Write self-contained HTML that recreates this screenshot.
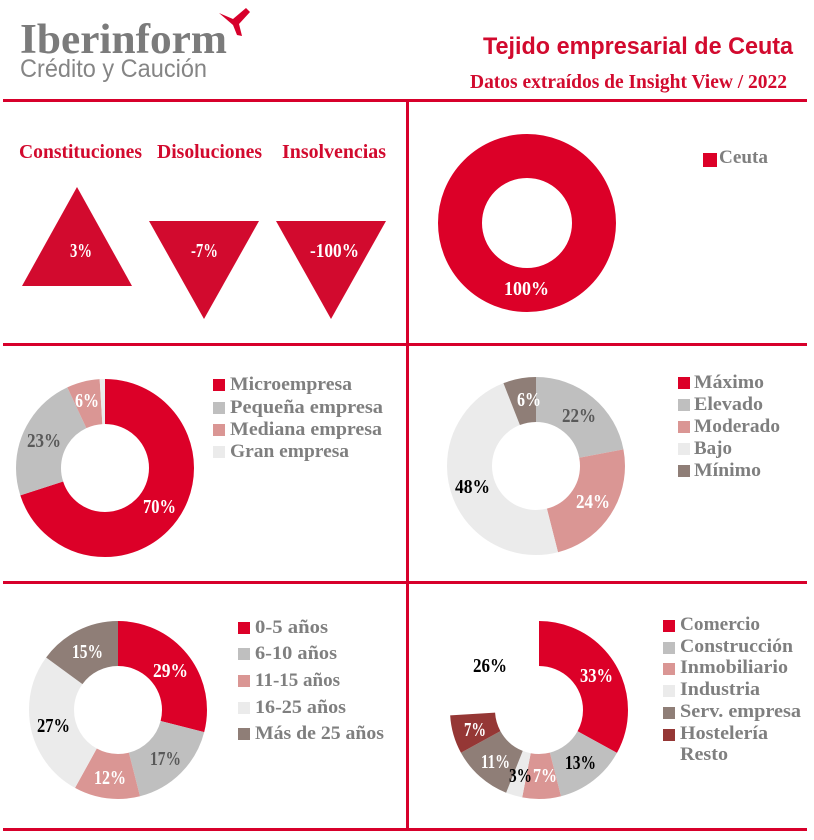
<!DOCTYPE html>
<html><head><meta charset="utf-8"><style>
html,body{margin:0;padding:0;background:#fff;}
svg{display:block;}
.lg{font-family:"Liberation Serif",serif;font-weight:bold;font-size:19px;fill:#7f7f7f;}
.pc{font-family:"Liberation Serif",serif;font-weight:bold;font-size:20px;}
.hd{font-family:"Liberation Serif",serif;font-weight:bold;font-size:20px;fill:#d20a2e;}
</style></head><body>
<svg width="814" height="840" viewBox="0 0 814 840" xmlns="http://www.w3.org/2000/svg">
<rect width="814" height="840" fill="#fff"/>
<!-- Logo -->
<text x="20" y="53" font-family="Liberation Serif, serif" font-weight="bold" font-size="42" fill="#7b7b7b" textLength="207" lengthAdjust="spacingAndGlyphs">Iberinform</text>
<text x="20" y="77" font-family="Liberation Sans, sans-serif" font-size="25" fill="#858585" textLength="187" lengthAdjust="spacingAndGlyphs">Crédito y Caución</text>
<path d="M219,13 L233,19 L246,8 L250,12 L239,24 L242,36 L237,35 L233,25 Z" fill="#d7002b"/>
<!-- Titles -->
<text x="483" y="54" font-family="Liberation Sans, sans-serif" font-weight="bold" font-size="24" fill="#d20a2e" textLength="310" lengthAdjust="spacingAndGlyphs">Tejido empresarial de Ceuta</text>
<text x="470" y="88" font-family="Liberation Serif, serif" font-weight="bold" font-size="20" fill="#d20a2e" textLength="317" lengthAdjust="spacingAndGlyphs">Datos extraídos de Insight View / 2022</text>
<!-- Grid lines -->
<rect x="3" y="99" width="804" height="3" fill="#d7002b"/>
<rect x="3" y="343" width="804" height="3" fill="#d7002b"/>
<rect x="3" y="581" width="804" height="3" fill="#d7002b"/>
<rect x="3" y="828" width="804" height="3" fill="#d7002b"/>
<rect x="406" y="99" width="3" height="732" fill="#d7002b"/>

<!-- Panel 1: triangles -->
<text class="hd" x="19" y="158" textLength="123" lengthAdjust="spacingAndGlyphs">Constituciones</text>
<text class="hd" x="157" y="158" textLength="105" lengthAdjust="spacingAndGlyphs">Disoluciones</text>
<text class="hd" x="282" y="158" textLength="104" lengthAdjust="spacingAndGlyphs">Insolvencias</text>
<polygon points="77,187 132,286 22,286" fill="#d20a2e"/>
<polygon points="149,221 259,221 204,319" fill="#d20a2e"/>
<polygon points="276,221 386,221 331,319" fill="#d20a2e"/>
<text class="pc" x="70" y="257" fill="#fff" textLength="22" lengthAdjust="spacingAndGlyphs">3%</text>
<text class="pc" x="191" y="257" fill="#fff" textLength="27" lengthAdjust="spacingAndGlyphs">-7%</text>
<text class="pc" x="310" y="257" fill="#fff" textLength="49" lengthAdjust="spacingAndGlyphs">-100%</text>

<!-- Panel 2: Ceuta donut -->
<circle cx="527" cy="223" r="67" fill="none" stroke="#dc0028" stroke-width="44"/>
<text class="pc" x="504" y="295" fill="#fff" textLength="45" lengthAdjust="spacingAndGlyphs">100%</text>
<rect x="703" y="153" width="14" height="14" fill="#dc0028"/>
<text class="lg" x="719" y="163" textLength="49" lengthAdjust="spacingAndGlyphs">Ceuta</text>

<!-- Panel 3: company size -->
<g transform="rotate(-90 105 468)" fill="none" stroke-width="45">
<circle cx="105" cy="468" r="66.5" stroke="#dc0028" stroke-dasharray="292.48 417.83" stroke-dashoffset="0"/>
<circle cx="105" cy="468" r="66.5" stroke="#bfbfbf" stroke-dasharray="96.10 417.83" stroke-dashoffset="-292.48"/>
<circle cx="105" cy="468" r="66.5" stroke="#da9694" stroke-dasharray="25.07 417.83" stroke-dashoffset="-388.58"/>
<circle cx="105" cy="468" r="66.5" stroke="#ebebeb" stroke-dasharray="4.18 417.83" stroke-dashoffset="-413.65"/>
</g>
<text class="pc" x="143" y="513" fill="#fff" textLength="33" lengthAdjust="spacingAndGlyphs">70%</text>
<text class="pc" x="27" y="447" fill="#595959" textLength="34" lengthAdjust="spacingAndGlyphs">23%</text>
<text class="pc" x="75" y="407" fill="#fff" textLength="24" lengthAdjust="spacingAndGlyphs">6%</text>
<rect x="213" y="379" width="12" height="12" fill="#dc0028"/>
<rect x="213" y="402" width="12" height="12" fill="#bfbfbf"/>
<rect x="213" y="424" width="12" height="12" fill="#da9694"/>
<rect x="213" y="446" width="12" height="12" fill="#ebebeb"/>
<text class="lg" x="230" y="390" textLength="122" lengthAdjust="spacingAndGlyphs">Microempresa</text>
<text class="lg" x="230" y="413" textLength="153" lengthAdjust="spacingAndGlyphs">Pequeña empresa</text>
<text class="lg" x="230" y="435" textLength="152" lengthAdjust="spacingAndGlyphs">Mediana empresa</text>
<text class="lg" x="230" y="457" textLength="119" lengthAdjust="spacingAndGlyphs">Gran empresa</text>

<!-- Panel 4: risk -->
<g transform="rotate(-90 536 466)" fill="none" stroke-width="45">
<circle cx="536" cy="466" r="66.5" stroke="#bfbfbf" stroke-dasharray="91.92 417.83" stroke-dashoffset="0"/>
<circle cx="536" cy="466" r="66.5" stroke="#da9694" stroke-dasharray="100.28 417.83" stroke-dashoffset="-91.92"/>
<circle cx="536" cy="466" r="66.5" stroke="#ebebeb" stroke-dasharray="200.56 417.83" stroke-dashoffset="-192.20"/>
<circle cx="536" cy="466" r="66.5" stroke="#8f7e77" stroke-dasharray="25.07 417.83" stroke-dashoffset="-392.76"/>
</g>
<text class="pc" x="562" y="422" fill="#595959" textLength="34" lengthAdjust="spacingAndGlyphs">22%</text>
<text class="pc" x="576" y="508" fill="#fff" textLength="34" lengthAdjust="spacingAndGlyphs">24%</text>
<text class="pc" x="455" y="493" fill="#000" textLength="35" lengthAdjust="spacingAndGlyphs">48%</text>
<text class="pc" x="517" y="406" fill="#fff" textLength="24" lengthAdjust="spacingAndGlyphs">6%</text>
<rect x="678" y="377" width="12" height="12" fill="#dc0028"/>
<rect x="678" y="399" width="12" height="12" fill="#bfbfbf"/>
<rect x="678" y="421" width="12" height="12" fill="#da9694"/>
<rect x="678" y="443" width="12" height="12" fill="#ebebeb"/>
<rect x="678" y="465" width="12" height="12" fill="#8f7e77"/>
<text class="lg" x="694" y="388" textLength="70" lengthAdjust="spacingAndGlyphs">Máximo</text>
<text class="lg" x="694" y="410" textLength="69" lengthAdjust="spacingAndGlyphs">Elevado</text>
<text class="lg" x="694" y="432" textLength="86" lengthAdjust="spacingAndGlyphs">Moderado</text>
<text class="lg" x="694" y="454" textLength="38" lengthAdjust="spacingAndGlyphs">Bajo</text>
<text class="lg" x="694" y="476" textLength="67" lengthAdjust="spacingAndGlyphs">Mínimo</text>

<!-- Panel 5: age -->
<g transform="rotate(-90 118 710)" fill="none" stroke-width="45">
<circle cx="118" cy="710" r="66.5" stroke="#dc0028" stroke-dasharray="121.17 417.83" stroke-dashoffset="0"/>
<circle cx="118" cy="710" r="66.5" stroke="#bfbfbf" stroke-dasharray="71.03 417.83" stroke-dashoffset="-121.17"/>
<circle cx="118" cy="710" r="66.5" stroke="#da9694" stroke-dasharray="50.14 417.83" stroke-dashoffset="-192.20"/>
<circle cx="118" cy="710" r="66.5" stroke="#ebebeb" stroke-dasharray="112.81 417.83" stroke-dashoffset="-242.34"/>
<circle cx="118" cy="710" r="66.5" stroke="#8f7e77" stroke-dasharray="62.67 417.83" stroke-dashoffset="-355.16"/>
</g>
<text class="pc" x="153" y="677" fill="#fff" textLength="35" lengthAdjust="spacingAndGlyphs">29%</text>
<text class="pc" x="150" y="765" fill="#595959" textLength="31" lengthAdjust="spacingAndGlyphs">17%</text>
<text class="pc" x="94" y="784" fill="#fff" textLength="32" lengthAdjust="spacingAndGlyphs">12%</text>
<text class="pc" x="37" y="732" fill="#000" textLength="33" lengthAdjust="spacingAndGlyphs">27%</text>
<text class="pc" x="72" y="658" fill="#fff" textLength="31" lengthAdjust="spacingAndGlyphs">15%</text>
<rect x="238" y="622" width="12" height="12" fill="#dc0028"/>
<rect x="238" y="648" width="12" height="12" fill="#bfbfbf"/>
<rect x="238" y="675" width="12" height="12" fill="#da9694"/>
<rect x="238" y="702" width="12" height="12" fill="#ebebeb"/>
<rect x="238" y="728" width="12" height="12" fill="#8f7e77"/>
<text class="lg" x="255" y="633" textLength="73" lengthAdjust="spacingAndGlyphs">0-5 años</text>
<text class="lg" x="255" y="659" textLength="82" lengthAdjust="spacingAndGlyphs">6-10 años</text>
<text class="lg" x="255" y="686" textLength="85" lengthAdjust="spacingAndGlyphs">11-15 años</text>
<text class="lg" x="255" y="713" textLength="91" lengthAdjust="spacingAndGlyphs">16-25 años</text>
<text class="lg" x="255" y="739" textLength="129" lengthAdjust="spacingAndGlyphs">Más de 25 años</text>

<!-- Panel 6: sector -->
<g transform="rotate(-90 539 710)" fill="none" stroke-width="45">
<circle cx="539" cy="710" r="66.5" stroke="#dc0028" stroke-dasharray="137.88 417.83" stroke-dashoffset="0"/>
<circle cx="539" cy="710" r="66.5" stroke="#bfbfbf" stroke-dasharray="54.32 417.83" stroke-dashoffset="-137.88"/>
<circle cx="539" cy="710" r="66.5" stroke="#da9694" stroke-dasharray="29.25 417.83" stroke-dashoffset="-192.20"/>
<circle cx="539" cy="710" r="66.5" stroke="#ebebeb" stroke-dasharray="12.54 417.83" stroke-dashoffset="-221.45"/>
<circle cx="539" cy="710" r="66.5" stroke="#8f7e77" stroke-dasharray="45.96 417.83" stroke-dashoffset="-233.99"/>
<circle cx="539" cy="710" r="66.5" stroke="#953735" stroke-dasharray="29.25 417.83" stroke-dashoffset="-279.95"/>
</g>
<text class="pc" x="580" y="682" fill="#fff" textLength="33" lengthAdjust="spacingAndGlyphs">33%</text>
<text class="pc" x="565" y="769" fill="#000" textLength="31" lengthAdjust="spacingAndGlyphs">13%</text>
<text class="pc" x="533" y="782" fill="#fff" textLength="24" lengthAdjust="spacingAndGlyphs">7%</text>
<text class="pc" x="509" y="782" fill="#000" textLength="23" lengthAdjust="spacingAndGlyphs">3%</text>
<text class="pc" x="481" y="768" fill="#fff" textLength="29" lengthAdjust="spacingAndGlyphs">11%</text>
<text class="pc" x="464" y="736" fill="#fff" textLength="22" lengthAdjust="spacingAndGlyphs">7%</text>
<text class="pc" x="473" y="672" fill="#000" textLength="34" lengthAdjust="spacingAndGlyphs">26%</text>
<rect x="663" y="620" width="12" height="12" fill="#dc0028"/>
<rect x="663" y="642" width="12" height="12" fill="#bfbfbf"/>
<rect x="663" y="663" width="12" height="12" fill="#da9694"/>
<rect x="663" y="685" width="12" height="12" fill="#ebebeb"/>
<rect x="663" y="707" width="12" height="12" fill="#8f7e77"/>
<rect x="663" y="729" width="12" height="12" fill="#953735"/>
<text class="lg" x="680" y="630" textLength="80" lengthAdjust="spacingAndGlyphs">Comercio</text>
<text class="lg" x="680" y="652" textLength="113" lengthAdjust="spacingAndGlyphs">Construcción</text>
<text class="lg" x="680" y="673" textLength="108" lengthAdjust="spacingAndGlyphs">Inmobiliario</text>
<text class="lg" x="680" y="695" textLength="80" lengthAdjust="spacingAndGlyphs">Industria</text>
<text class="lg" x="680" y="717" textLength="121" lengthAdjust="spacingAndGlyphs">Serv. empresa</text>
<text class="lg" x="680" y="739" textLength="88" lengthAdjust="spacingAndGlyphs">Hostelería</text>
<text class="lg" x="680" y="760" textLength="48" lengthAdjust="spacingAndGlyphs">Resto</text>
</svg>
</body></html>
